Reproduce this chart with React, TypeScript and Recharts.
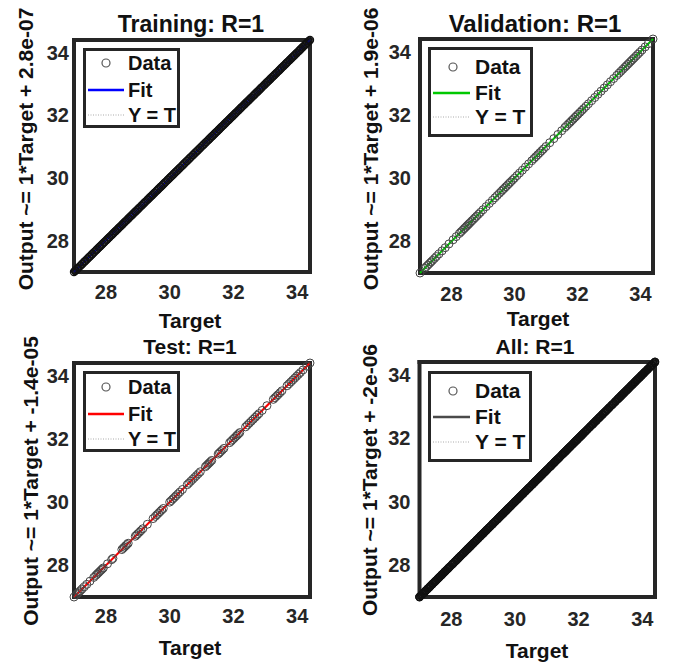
import React from 'react';
import { ScatterChart, Scatter, XAxis, YAxis, Legend } from 'recharts';

const FONT = "'Liberation Sans', Arial, Helvetica, sans-serif";
const INK = '#262626';

// ---------- data ----------
const tickValues = [28, 30, 32, 34];
const axisMin = 27.0;
const axisMax = 34.4;

// Targets (Output equals Target, R = 1)
const trainingTargets = [
  27.0, 27.03, 27.05, 27.09, 27.12, 27.14, 27.18, 27.21, 27.25, 27.27, 27.31, 27.34, 27.36, 27.4, 27.43, 27.47,
  27.49, 27.52, 27.56, 27.58, 27.62, 27.65, 27.69, 27.71, 27.74, 27.78, 27.81, 27.83, 27.87, 27.9, 27.94, 27.96,
  28.0, 28.03, 28.06, 28.1, 28.12, 28.16, 28.19, 28.22, 28.25, 28.29, 28.31, 28.35, 28.38, 28.41, 28.44, 28.47,
  28.51, 28.53, 28.57, 28.6, 28.63, 28.66, 28.7, 28.72, 28.76, 28.79, 28.82, 28.85, 28.88, 28.92, 28.94, 28.98,
  29.01, 29.04, 29.07, 29.11, 29.13, 29.17, 29.2, 29.23, 29.26, 29.3, 29.32, 29.36, 29.39, 29.42, 29.45, 29.48,
  29.52, 29.54, 29.58, 29.61, 29.64, 29.67, 29.71, 29.73, 29.77, 29.8, 29.83, 29.86, 29.89, 29.93, 29.95, 29.99,
  30.02, 30.05, 30.08, 30.12, 30.14, 30.18, 30.21, 30.24, 30.27, 30.31, 30.33, 30.37, 30.4, 30.43, 30.46, 30.49,
  30.53, 30.55, 30.59, 30.62, 30.65, 30.68, 30.72, 30.74, 30.78, 30.81, 30.84, 30.87, 30.9, 30.94, 30.96, 31.0,
  31.03, 31.06, 31.09, 31.13, 31.15, 31.19, 31.22, 31.25, 31.28, 31.32, 31.34, 31.38, 31.41, 31.44, 31.47, 31.5,
  31.54, 31.56, 31.6, 31.63, 31.66, 31.69, 31.73, 31.75, 31.79, 31.82, 31.85, 31.88, 31.91, 31.95, 31.97, 32.01,
  32.04, 32.07, 32.1, 32.14, 32.16, 32.2, 32.23, 32.26, 32.29, 32.33, 32.35, 32.39, 32.42, 32.45, 32.48, 32.51,
  32.55, 32.57, 32.61, 32.64, 32.67, 32.7, 32.74, 32.76, 32.8, 32.83, 32.86, 32.89, 32.92, 32.96, 32.98, 33.02,
  33.05, 33.08, 33.11, 33.15, 33.17, 33.21, 33.24, 33.27, 33.3, 33.34, 33.36, 33.4, 33.43, 33.46, 33.49, 33.52,
  33.56, 33.58, 33.62, 33.65, 33.68, 33.71, 33.75, 33.77, 33.81, 33.84, 33.87, 33.9, 33.93, 33.97, 33.99, 34.03,
  34.06, 34.09, 34.12, 34.16, 34.18, 34.22, 34.25, 34.28, 34.31, 34.35, 34.38, 34.4,
];

const validationTargets = [
  27.0, 27.15, 27.2, 27.25, 27.3, 27.35, 27.4, 27.46, 27.52, 27.6, 27.7, 27.8, 27.92, 28.05, 28.15, 28.25,
  28.3, 28.35, 28.4, 28.44, 28.48, 28.52, 28.56, 28.6, 28.65, 28.7, 28.75, 28.8, 28.86, 28.92, 29.0, 29.1,
  29.2, 29.3, 29.38, 29.45, 29.52, 29.58, 29.63, 29.68, 29.73, 29.78, 29.83, 29.88, 29.94, 30.0, 30.08, 30.16,
  30.25, 30.35, 30.45, 30.55, 30.62, 30.68, 30.74, 30.8, 30.86, 30.92, 31.0, 31.12, 31.25, 31.38, 31.5, 31.6,
  31.66, 31.72, 31.77, 31.82, 31.87, 31.92, 31.97, 32.02, 32.08, 32.14, 32.2, 32.27, 32.35, 32.45, 32.55, 32.65,
  32.75, 32.85, 32.95, 33.05, 33.15, 33.25, 33.32, 33.38, 33.44, 33.5, 33.55, 33.6, 33.65, 33.7, 33.75, 33.8,
  33.86, 33.92, 33.98, 34.05, 34.15, 34.25, 34.4,
];

const testTargets = [
  27.0, 27.08, 27.12, 27.16, 27.2, 27.25, 27.32, 27.4, 27.5, 27.62, 27.68, 27.72, 27.76, 27.8, 27.84, 27.88,
  27.92, 28.05, 28.18, 28.22, 28.5, 28.54, 28.58, 28.62, 28.66, 28.7, 28.92, 28.96, 29.0, 29.05, 29.1, 29.16,
  29.3, 29.48, 29.55, 29.6, 29.65, 29.7, 29.75, 29.8, 30.0, 30.05, 30.1, 30.15, 30.2, 30.26, 30.32, 30.4,
  30.55, 30.6, 30.66, 30.72, 30.78, 30.84, 30.9, 30.96, 31.12, 31.16, 31.2, 31.24, 31.28, 31.32, 31.52, 31.56,
  31.6, 31.65, 31.7, 31.88, 31.93, 31.98, 32.03, 32.08, 32.12, 32.16, 32.2, 32.38, 32.44, 32.5, 32.56, 32.62,
  32.68, 32.74, 32.8, 32.9, 33.05, 33.25, 33.3, 33.35, 33.4, 33.46, 33.52, 33.68, 33.74, 33.8, 33.86, 33.92,
  33.98, 34.04, 34.1, 34.18, 34.3, 34.4,
];

const allTargets = [...trainingTargets, ...validationTargets, ...testTargets];

// fitted line end points (Target values); Output ~= 1*Target + ~0
const fitTargets = [27.0, 34.4];

const titles = ['Training: R=1', 'Validation: R=1', 'Test: R=1', 'All: R=1'];
const yLabels = [
  'Output ~= 1*Target + 2.8e-07',
  'Output ~= 1*Target + 1.9e-06',
  'Output ~= 1*Target + -1.4e-05',
  'Output ~= 1*Target + -2e-06',
];
const xLabel = 'Target';
const legendNames = ['Data', 'Fit', 'Y = T'];
const fitColors = ['#0000ff', '#00c800', '#ff0000', '#4a4a4a'];
const datasets = [trainingTargets, validationTargets, testTargets, allTargets];

// ---------- layout / styles ----------
type LegendLayout = { x: number; y: number; w: number; h: number; fs: number; rows: number[]; cx: number; tx: number; l1: number; l2: number };
type PanelLayout = {
  left: number; top: number; plotLeft: number; mRight: number; mTop: number; xAxisH: number;
  xGap: number; yGap: number; title: [number, number, number]; yLabel: [number, number]; xLabel: [number, number];
  legend: LegendLayout; dataStroke: string; dataWidth: number; r: number;
};

const layouts: PanelLayout[] = [
  {
    left: 0, top: 0, plotLeft: 74, mRight: 30, mTop: 40, xAxisH: 62, xGap: 13, yGap: 5,
    title: [191, 24, 23], yLabel: [25, 149], xLabel: [190, 320],
    legend: { x: 83, y: 48, w: 97, h: 80, fs: 20, rows: [15, 42, 67], cx: 23, tx: 45, l1: 5, l2: 41 },
    dataStroke: '#111', dataWidth: 1.2, r: 3.6,
  },
  {
    left: 340, top: 0, plotLeft: 80, mRight: 27, mTop: 39, xAxisH: 61, xGap: 14, yGap: 9,
    title: [195, 24, 24], yLabel: [29.5, 149], xLabel: [198, 317.5],
    legend: { x: 88, y: 47, w: 105, h: 90, fs: 21, rows: [20, 46, 70], cx: 25, tx: 47, l1: 5, l2: 42 },
    dataStroke: '#444', dataWidth: 1, r: 4,
  },
  {
    left: 0, top: 334, plotLeft: 74, mRight: 30, mTop: 29, xAxisH: 71, xGap: 12, yGap: 5,
    title: [190, 12, 21], yLabel: [30, 147], xLabel: [190, 312.5],
    legend: { x: 83, y: 37, w: 97, h: 81, fs: 20, rows: [16, 43, 68], cx: 23, tx: 45, l1: 5, l2: 41 },
    dataStroke: '#444', dataWidth: 1, r: 4,
  },
  {
    left: 340, top: 334, plotLeft: 79.5, mRight: 25, mTop: 28, xAxisH: 71, xGap: 15, yGap: 9,
    title: [195, 12, 21], yLabel: [29, 146], xLabel: [197, 316],
    legend: { x: 88, y: 37, w: 104, h: 91, fs: 21, rows: [20, 46, 71], cx: 25, tx: 47, l1: 5, l2: 42 },
    dataStroke: '#111', dataWidth: 1.2, r: 3.6,
  },
];

const toPoints = (vals: number[]) => vals.map((v) => ({ target: v, output: v }));

const NoMarker = () => <g />;

const makeCircle = (stroke: string, sw: number, r: number) => (p: any) =>
  <circle cx={p.cx} cy={p.cy} r={r} fill="none" stroke={stroke} strokeWidth={sw} />;

function LegendBox({ lg, color }: { lg: LegendLayout; color: string }) {
  const b = 3;
  return (
    <div
      style={{
        width: lg.w, height: lg.h, boxSizing: 'border-box', border: `${b}px solid ${INK}`, background: '#fff',
        position: 'relative', fontFamily: FONT, fontWeight: 700, fontSize: lg.fs, color: '#111',
      }}
    >
      {legendNames.map((name, i) => (
        <div key={name} style={{ position: 'absolute', left: 0, top: lg.rows[i] - b - 12, height: 24, display: 'flex', alignItems: 'center' }}>
          <svg width={lg.tx - b} height={24} style={{ display: 'block' }}>
            {i === 0 && <circle cx={lg.cx - b} cy={12} r={4} fill="none" stroke="#555" strokeWidth={1.2} />}
            {i === 1 && <line x1={lg.l1 - b} x2={lg.l2 - b} y1={12} y2={12} stroke={color} strokeWidth={2.5} />}
            {i === 2 && <line x1={lg.l1 - b} x2={lg.l2 - b} y1={12} y2={12} stroke="#aaa" strokeWidth={1} strokeDasharray="1 1.5" />}
          </svg>
          <span style={{ lineHeight: '24px', whiteSpace: 'nowrap' }}>{name}</span>
        </div>
      ))}
    </div>
  );
}

function Panel({ idx }: { idx: number }) {
  const L = layouts[idx];
  const data = toPoints(datasets[idx]);
  const fit = toPoints(fitTargets);
  const color = fitColors[idx];
  const domain: [number, number] = [axisMin, axisMax];
  const axisLineStyle = { stroke: INK, strokeWidth: 4, strokeLinecap: 'square' as const };
  const tickLineStyle = { stroke: INK, strokeWidth: 2 };
  const tickFont = { fill: INK, fontSize: 20, fontWeight: 700, fontFamily: FONT };
  const textBase: React.CSSProperties = {
    position: 'absolute', fontFamily: FONT, fontWeight: 700, color: '#111', whiteSpace: 'nowrap', lineHeight: 1,
  };
  return (
    <div style={{ position: 'absolute', left: L.left, top: L.top, width: 340, height: 334 }}>
      <ScatterChart width={340} height={334} margin={{ top: L.mTop, right: L.mRight, bottom: 0, left: 0 }}>
        <XAxis xAxisId="m" type="number" dataKey="target" domain={domain} ticks={tickValues} interval={0}
          orientation="bottom" height={L.xAxisH} tickSize={0} tickMargin={L.xGap} tickLine={false}
          axisLine={axisLineStyle} tick={tickFont} />
        <XAxis xAxisId="bm" type="number" domain={domain} ticks={tickValues} interval={0} orientation="bottom"
          mirror tick={false} tickSize={6} tickLine={tickLineStyle} axisLine={false} />
        <XAxis xAxisId="t" type="number" domain={domain} ticks={tickValues} interval={0} orientation="top"
          mirror tick={false} tickSize={6} tickLine={tickLineStyle} axisLine={axisLineStyle} />
        <YAxis yAxisId="m" type="number" dataKey="output" domain={domain} ticks={tickValues} interval={0}
          orientation="left" width={L.plotLeft} tickSize={0} tickMargin={L.yGap} tickLine={false}
          axisLine={axisLineStyle} tick={tickFont} />
        <YAxis yAxisId="lm" type="number" domain={domain} ticks={tickValues} interval={0} orientation="left"
          mirror tick={false} tickSize={6} tickLine={tickLineStyle} axisLine={false} />
        <YAxis yAxisId="r" type="number" domain={domain} ticks={tickValues} interval={0} orientation="right"
          mirror tick={false} tickSize={6} tickLine={tickLineStyle} axisLine={axisLineStyle} />
        <Legend layout="vertical" align="center" verticalAlign="middle"
          wrapperStyle={{ left: L.legend.x, top: L.legend.y, width: L.legend.w, height: L.legend.h }}
          content={() => <LegendBox lg={L.legend} color={color} />} />
        <Scatter name="Y = T" data={fit} xAxisId="m" yAxisId="m" shape={NoMarker} isAnimationActive={false}
          line={{ stroke: '#999', strokeWidth: 1, strokeDasharray: '1 2' }} />
        <Scatter name="Fit" data={fit} xAxisId="m" yAxisId="m" shape={NoMarker} isAnimationActive={false}
          line={{ stroke: color, strokeWidth: 2 }} />
        <Scatter name="Data" data={data} xAxisId="m" yAxisId="m" shape={makeCircle(L.dataStroke, L.dataWidth, L.r)}
          isAnimationActive={false} />
      </ScatterChart>
      <div style={{ ...textBase, fontSize: L.title[2], left: L.title[0], top: L.title[1], transform: 'translate(-50%, -50%)' }}>
        {titles[idx]}
      </div>
      <div style={{ ...textBase, fontSize: 21, left: L.yLabel[0], top: L.yLabel[1], transform: 'translate(-50%, -50%) rotate(-90deg)' }}>
        {yLabels[idx]}
      </div>
      <div style={{ ...textBase, fontSize: 21, left: L.xLabel[0], top: L.xLabel[1], transform: 'translate(-50%, -50%)' }}>
        {xLabel}
      </div>
    </div>
  );
}

export default function App() {
  return (
    <div style={{ position: 'absolute', left: 0, top: 0, width: 680, height: 668, background: '#fff', overflow: 'hidden' }}>
      {titles.map((_, i) => (
        <Panel key={i} idx={i} />
      ))}
    </div>
  );
}
